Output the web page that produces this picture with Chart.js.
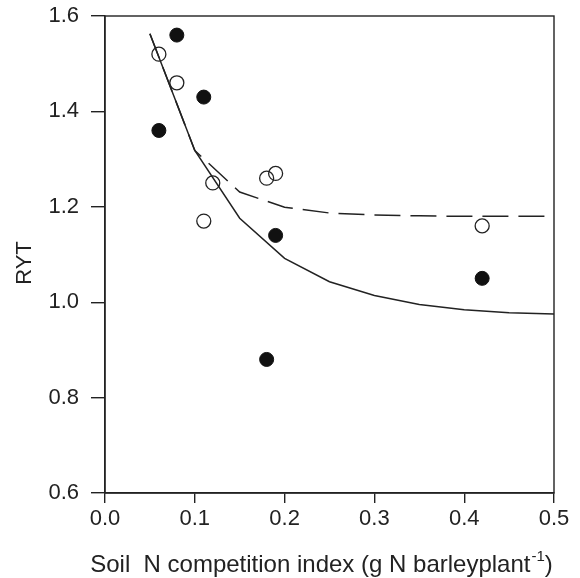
<!DOCTYPE html>
<html>
<head>
<meta charset="utf-8">
<script src="https://cdn.jsdelivr.net/npm/chart.js@4.4.1/dist/chart.umd.min.js"></script>
<style>
  html, body { margin: 0; padding: 0; background: #fff; }
  #wrap { width: 580px; height: 578px; position: relative; }
</style>
</head>
<body>
<div id="wrap"><canvas id="c" width="580" height="578"></canvas></div>
<script>
// ---- data ----
const filledX = [0.06, 0.08, 0.11, 0.18, 0.19, 0.42];
const filledY = [1.36, 1.56, 1.43, 0.88, 1.14, 1.05];
const openX = [0.06, 0.08, 0.11, 0.12, 0.18, 0.19, 0.42];
const openY = [1.52, 1.46, 1.17, 1.25, 1.26, 1.27, 1.16];
const curveX = [0.05, 0.10, 0.15, 0.20, 0.25, 0.30, 0.35, 0.40, 0.45, 0.50];
const solidY = [1.563, 1.318, 1.176, 1.092, 1.043, 1.014, 0.995, 0.984, 0.978, 0.975];
const dashedY = [1.563, 1.318, 1.231, 1.199, 1.187, 1.183, 1.181, 1.180, 1.180, 1.180];
const xTicks = [0.0, 0.1, 0.2, 0.3, 0.4, 0.5];
const yTicks = [0.6, 0.8, 1.0, 1.2, 1.4, 1.6];
const xTitleMain = 'Soil  N competition index (g N barleyplant';
const xTitleSup = '-1';
const xTitleEnd = ')';
const yTitle = 'RYT';

const FONT = '"Liberation Sans", Arial, Helvetica, sans-serif';
const INK = '#222';

const pts = (xs, ys) => xs.map((x, i) => ({ x: x, y: ys[i] }));

const framePlugin = {
  id: 'frame',
  afterDraw(chart) {
    const { ctx, chartArea: a } = chart;
    ctx.save();
    ctx.strokeStyle = INK;
    ctx.lineWidth = 1.4;
    ctx.strokeRect(a.left, a.top, a.right - a.left, a.bottom - a.top);
    ctx.fillStyle = INK;
    // x axis title with superscript
    ctx.textBaseline = 'alphabetic';
    ctx.textAlign = 'left';
    ctx.font = '24px ' + FONT;
    const w1 = ctx.measureText(xTitleMain).width;
    ctx.font = '15px ' + FONT;
    const w2 = ctx.measureText(xTitleSup).width;
    ctx.font = '24px ' + FONT;
    const w3 = ctx.measureText(xTitleEnd).width;
    const total = w1 + w2 + w3;
    let x0 = 321 - total / 2;
    const base = 572;
    ctx.fillText(xTitleMain, x0, base);
    ctx.font = '15px ' + FONT;
    ctx.fillText(xTitleSup, x0 + w1 + 1, base - 11);
    ctx.font = '24px ' + FONT;
    ctx.fillText(xTitleEnd, x0 + w1 + w2 + 1, base);
    // y axis title
    ctx.font = '22px ' + FONT;
    ctx.translate(25, 263);
    ctx.rotate(-Math.PI / 2);
    ctx.textAlign = 'center';
    ctx.textBaseline = 'middle';
    ctx.fillText(yTitle, 0, 0);
    ctx.restore();
  }
};

new Chart(document.getElementById('c'), {
  type: 'scatter',
  data: {
    datasets: [
      { label: 'solid', data: pts(curveX, solidY), showLine: true, borderColor: INK, borderWidth: 1.5, pointRadius: 0, fill: false, tension: 0 },
      { label: 'dashed', data: pts(curveX, dashedY), showLine: true, borderColor: INK, borderWidth: 1.5, borderDash: [26, 10], pointRadius: 0, fill: false, tension: 0 },
      { label: 'open', data: pts(openX, openY), showLine: false, pointRadius: 7, pointBackgroundColor: 'rgba(0,0,0,0)', pointBorderColor: INK, pointBorderWidth: 1.3 },
      { label: 'filled', data: pts(filledX, filledY), showLine: false, pointRadius: 7, pointBackgroundColor: '#111', pointBorderColor: '#111', pointBorderWidth: 1 }
    ]
  },
  options: {
    responsive: false,
    animation: false,
    devicePixelRatio: 1,
    layout: { padding: { top: 16, right: 26, left: 0, bottom: 0 } },
    plugins: { legend: { display: false }, tooltip: { enabled: false } },
    scales: {
      x: {
        type: 'linear', min: 0, max: 0.5,
        afterFit(s) { s.height = 85; s.paddingLeft = 0; s.paddingRight = 0; },
        afterBuildTicks(s) { s.ticks = xTicks.map(v => ({ value: v })); },
        ticks: { color: INK, font: { family: FONT, size: 22 }, padding: 3, callback: v => v.toFixed(1), maxRotation: 0 },
        grid: { drawOnChartArea: false, drawTicks: true, tickLength: 10, color: INK, lineWidth: 1.4 },
        border: { display: true, color: INK, width: 1.4 }
      },
      y: {
        type: 'linear', min: 0.6, max: 1.6,
        afterFit(s) { s.width = 105; s.paddingTop = 0; s.paddingBottom = 0; },
        afterBuildTicks(s) { s.ticks = yTicks.map(v => ({ value: v })); },
        ticks: { color: INK, font: { family: FONT, size: 22 }, padding: 12, callback: v => v.toFixed(1) },
        grid: { drawOnChartArea: false, drawTicks: true, tickLength: 14, color: INK, lineWidth: 1.4 },
        border: { display: true, color: INK, width: 1.4 }
      }
    }
  },
  plugins: [framePlugin]
});
</script>
</body>
</html>
